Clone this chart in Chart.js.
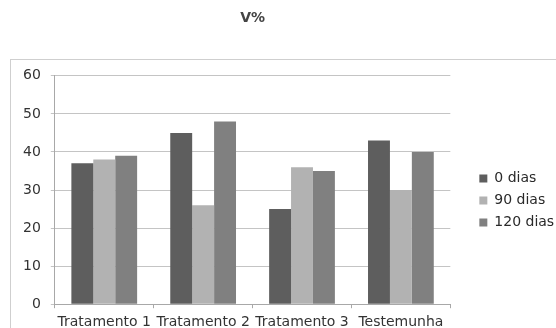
<!DOCTYPE html>
<html>
<head>
<meta charset="utf-8">
<script src="https://cdn.jsdelivr.net/npm/chart.js@4"></script>
<style>
  html, body { margin: 0; padding: 0; background: #fff; }
  #wrap { width: 556px; height: 328px; position: relative; }
</style>
</head>
<body>
<div id="wrap"><canvas id="c" width="556" height="328"></canvas></div>
<script>
const categories = ['Tratamento 1', 'Tratamento 2', 'Tratamento 3', 'Testemunha'];
const seriesNames = ['0 dias', '90 dias', '120 dias'];
const dias0 = [37, 45, 25, 43];
const dias90 = [38, 26, 36, 30];
const dias120 = [39, 48, 35, 40];
const yTicks = [0, 10, 20, 30, 40, 50, 60];
const colors = ['#5e5e5e', '#b2b2b2', '#808080'];

const FONT = "'DejaVu Sans', Verdana, sans-serif";

// light frame around the plot region, like a spreadsheet chart object
const framePlugin = {
  id: 'frame',
  beforeDraw(chart) {
    const ctx = chart.ctx;
    ctx.save();
    ctx.strokeStyle = '#cfcfcf';
    ctx.lineWidth = 1;
    ctx.strokeRect(10.5, 59.5, 600, 400);
    ctx.restore();
  }
};

new Chart(document.getElementById('c'), {
  type: 'bar',
  data: {
    labels: categories,
    datasets: [
      { label: seriesNames[0], data: dias0, backgroundColor: colors[0] },
      { label: seriesNames[1], data: dias90, backgroundColor: colors[1] },
      { label: seriesNames[2], data: dias120, backgroundColor: colors[2] }
    ]
  },
  options: {
    responsive: false,
    animation: false,
    devicePixelRatio: 1,
    datasets: { bar: { categoryPercentage: 0.665, barPercentage: 1.0 } },
    layout: { padding: { left: 13, right: -7, top: 0, bottom: -9 } },
    plugins: {
      tooltip: { enabled: false },
      title: {
        display: true,
        text: 'V%',
        fullSize: false,
        color: '#444',
        font: { family: FONT, size: 14, weight: 'bold' },
        padding: { top: 10, bottom: 49 }
      },
      legend: {
        position: 'right',
        align: 'center',
        fullSize: false,
        title: { display: true, text: ' ', font: { size: 1 }, padding: { top: 0, bottom: 20 } },
        labels: {
          color: '#2a2a2a',
          font: { family: FONT, size: 14 },
          boxWidth: 8,
          boxHeight: 8,
          padding: 8
        }
      }
    },
    scales: {
      x: {
        grid: {
          offset: true,
          drawOnChartArea: false,
          drawTicks: true,
          tickLength: 4,
          color: '#a8a8a8'
        },
        border: { display: true, color: '#a8a8a8' },
        ticks: {
          color: '#333',
          font: { family: FONT, size: 14 },
          maxRotation: 0,
          autoSkip: false,
          padding: 6
        }
      },
      y: {
        min: 0,
        max: 60,
        afterBuildTicks(axis) { axis.ticks = yTicks.map(v => ({ value: v })); },
        grid: { color: '#c4c4c4', tickLength: 4, drawTicks: true },
        border: { display: true, color: '#a8a8a8' },
        ticks: {
          color: '#333',
          font: { family: FONT, size: 14 },
          padding: 10
        }
      },
      // empty spacer column between the plot and the legend
      gap: {
        type: 'linear',
        position: 'right',
        display: true,
        grid: { display: false },
        border: { display: false },
        ticks: { display: false },
        afterFit(axis) { axis.width = 21; }
      }
    }
  },
  plugins: [framePlugin]
});
</script>
</body>
</html>
